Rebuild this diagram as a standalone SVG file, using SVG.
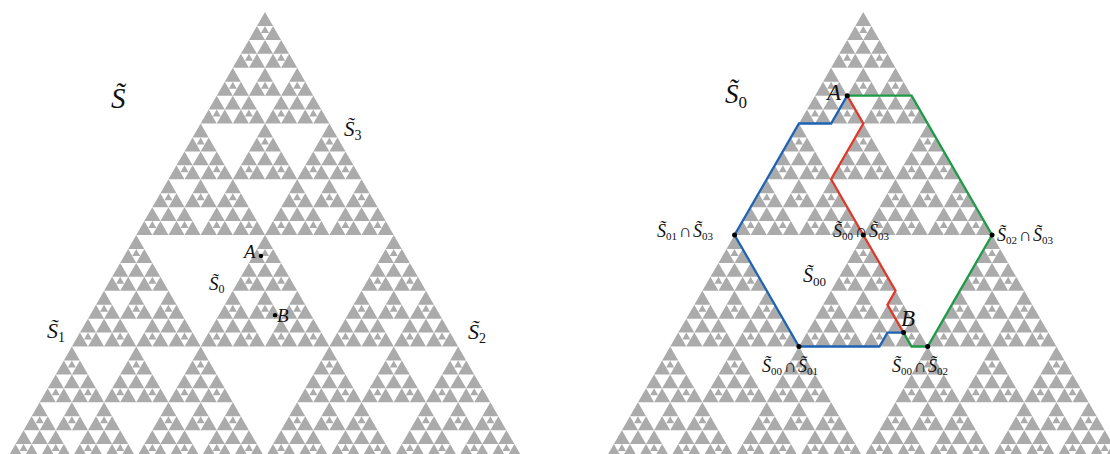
<svg xmlns="http://www.w3.org/2000/svg" width="1110" height="454" viewBox="0 0 1110 454">
<style>
  .gray{fill:#ababab}
  text{font-family:"Liberation Serif","Times New Roman",serif;fill:#111}
  .it{font-style:italic}
  .p{fill:none;stroke-width:2.3;stroke-linejoin:miter;stroke-linecap:butt}
  .blue{stroke:#1e63b4}
  .red{stroke:#e0392a}
  .green{stroke:#1f9a46}
  .dot{fill:#000}
</style>
<defs>
  <polygon id="g0" points="0,0 -0.5,0.8660254 0.5,0.8660254"/>
  <g id="g1">
    <use href="#g0" transform="scale(.5)"/>
    <use href="#g0" transform="translate(-.25 .4330127) scale(.5)"/>
    <use href="#g0" transform="translate(.25 .4330127) scale(.5)"/>
    <use href="#g0" transform="translate(0 .4330127) scale(.25)"/>
  </g>
  <g id="g2">
    <use href="#g1" transform="scale(.5)"/>
    <use href="#g1" transform="translate(-.25 .4330127) scale(.5)"/>
    <use href="#g1" transform="translate(.25 .4330127) scale(.5)"/>
    <use href="#g0" transform="translate(0 .4330127) scale(.25)"/>
  </g>
  <g id="g3">
    <use href="#g2" transform="scale(.5)"/>
    <use href="#g2" transform="translate(-.25 .4330127) scale(.5)"/>
    <use href="#g2" transform="translate(.25 .4330127) scale(.5)"/>
    <use href="#g1" transform="translate(0 .4330127) scale(.25)"/>
  </g>
  <g id="g4">
    <use href="#g3" transform="scale(.5)"/>
    <use href="#g3" transform="translate(-.25 .4330127) scale(.5)"/>
    <use href="#g3" transform="translate(.25 .4330127) scale(.5)"/>
    <use href="#g2" transform="translate(0 .4330127) scale(.25)"/>
  </g>
  <g id="g5">
    <use href="#g4" transform="scale(.5)"/>
    <use href="#g4" transform="translate(-.25 .4330127) scale(.5)"/>
    <use href="#g4" transform="translate(.25 .4330127) scale(.5)"/>
    <use href="#g3" transform="translate(0 .4330127) scale(.25)"/>
  </g>
</defs>
<rect x="0" y="0" width="1110" height="454" fill="#ffffff"/>

<g id="gasket-left" class="gray">
  <use href="#g5" transform="translate(265 12) scale(515)"/>
</g>
<g id="gasket-right" class="gray">
  <use href="#g5" transform="translate(863.3 12) scale(515)"/>
</g>

<g id="connectors">
  <polyline class="p blue" points="847.21,95.63 831.12,123.5 798.93,123.5 734.55,235 798.93,346.5 879.40,346.5 887.45,332.56 903.54,332.56"/>
  <polyline class="p red" points="847.21,95.63 863.3,123.5 831.12,179.25 863.3,235 895.49,290.75 887.45,304.69 895.49,318.63 903.54,332.56"/>
  <polyline class="p green" points="847.21,95.63 911.58,95.63 992.05,235 927.68,346.5 911.58,346.5 903.54,332.56"/>
</g>

<g id="points">
  <circle class="dot" cx="260.98" cy="255.9" r="2.2"/>
  <circle class="dot" cx="275.06" cy="315.14" r="2.2"/>
  <circle class="dot" cx="847.21" cy="95.63" r="2.5"/>
  <circle class="dot" cx="903.54" cy="332.56" r="2.5"/>
  <circle class="dot" cx="734.55" cy="235" r="2.5"/>
  <circle class="dot" cx="992.05" cy="235" r="2.5"/>
  <circle class="dot" cx="863.3" cy="235" r="2.5"/>
  <circle class="dot" cx="798.93" cy="346.5" r="2.5"/>
  <circle class="dot" cx="927.68" cy="346.5" r="2.5"/>
</g>

<g id="labels-left">
  <text x="111" y="108" font-size="29"><tspan class="it">S&#x303;</tspan></text>
  <text x="344" y="136" font-size="21"><tspan class="it">S&#x303;</tspan><tspan font-size="14" dy="4">3</tspan></text>
  <text x="47" y="338" font-size="22"><tspan class="it">S&#x303;</tspan><tspan font-size="14" dy="4">1</tspan></text>
  <text x="468" y="339" font-size="22"><tspan class="it">S&#x303;</tspan><tspan font-size="14" dy="4">2</tspan></text>
  <text x="209" y="290" font-size="19"><tspan class="it">S&#x303;</tspan><tspan font-size="12" dy="3">0</tspan></text>
  <text class="it" x="244" y="258" font-size="19">A</text>
  <text class="it" x="277" y="322" font-size="19">B</text>
</g>

<g id="labels-right">
  <text x="725" y="103" font-size="27"><tspan class="it">S&#x303;</tspan><tspan font-size="17" dy="5">0</tspan></text>
  <text class="it" x="827" y="100" font-size="23">A</text>
  <text class="it" x="901" y="326" font-size="23">B</text>
  <text x="657" y="237" font-size="18"><tspan class="it">S&#x303;</tspan><tspan font-size="11" dy="3">01</tspan><tspan dy="-3" dx="2">∩</tspan><tspan class="it" dx="1">S&#x303;</tspan><tspan font-size="11" dy="3">03</tspan></text>
  <text x="833" y="237" font-size="18"><tspan class="it">S&#x303;</tspan><tspan font-size="11" dy="3">00</tspan><tspan dy="-3" dx="2">∩</tspan><tspan class="it" dx="1">S&#x303;</tspan><tspan font-size="11" dy="3">03</tspan></text>
  <text x="997" y="241" font-size="18"><tspan class="it">S&#x303;</tspan><tspan font-size="11" dy="3">02</tspan><tspan dy="-3" dx="2">∩</tspan><tspan class="it" dx="1">S&#x303;</tspan><tspan font-size="11" dy="3">03</tspan></text>
  <text x="803" y="282" font-size="20"><tspan class="it">S&#x303;</tspan><tspan font-size="13" dy="4">00</tspan></text>
  <text x="762" y="372" font-size="18"><tspan class="it">S&#x303;</tspan><tspan font-size="11" dy="3">00</tspan><tspan dy="-3" dx="2">∩</tspan><tspan class="it" dx="1">S&#x303;</tspan><tspan font-size="11" dy="3">01</tspan></text>
  <text x="892" y="372" font-size="18"><tspan class="it">S&#x303;</tspan><tspan font-size="11" dy="3">00</tspan><tspan dy="-3" dx="2">∩</tspan><tspan class="it" dx="1">S&#x303;</tspan><tspan font-size="11" dy="3">02</tspan></text>
</g>
</svg>
